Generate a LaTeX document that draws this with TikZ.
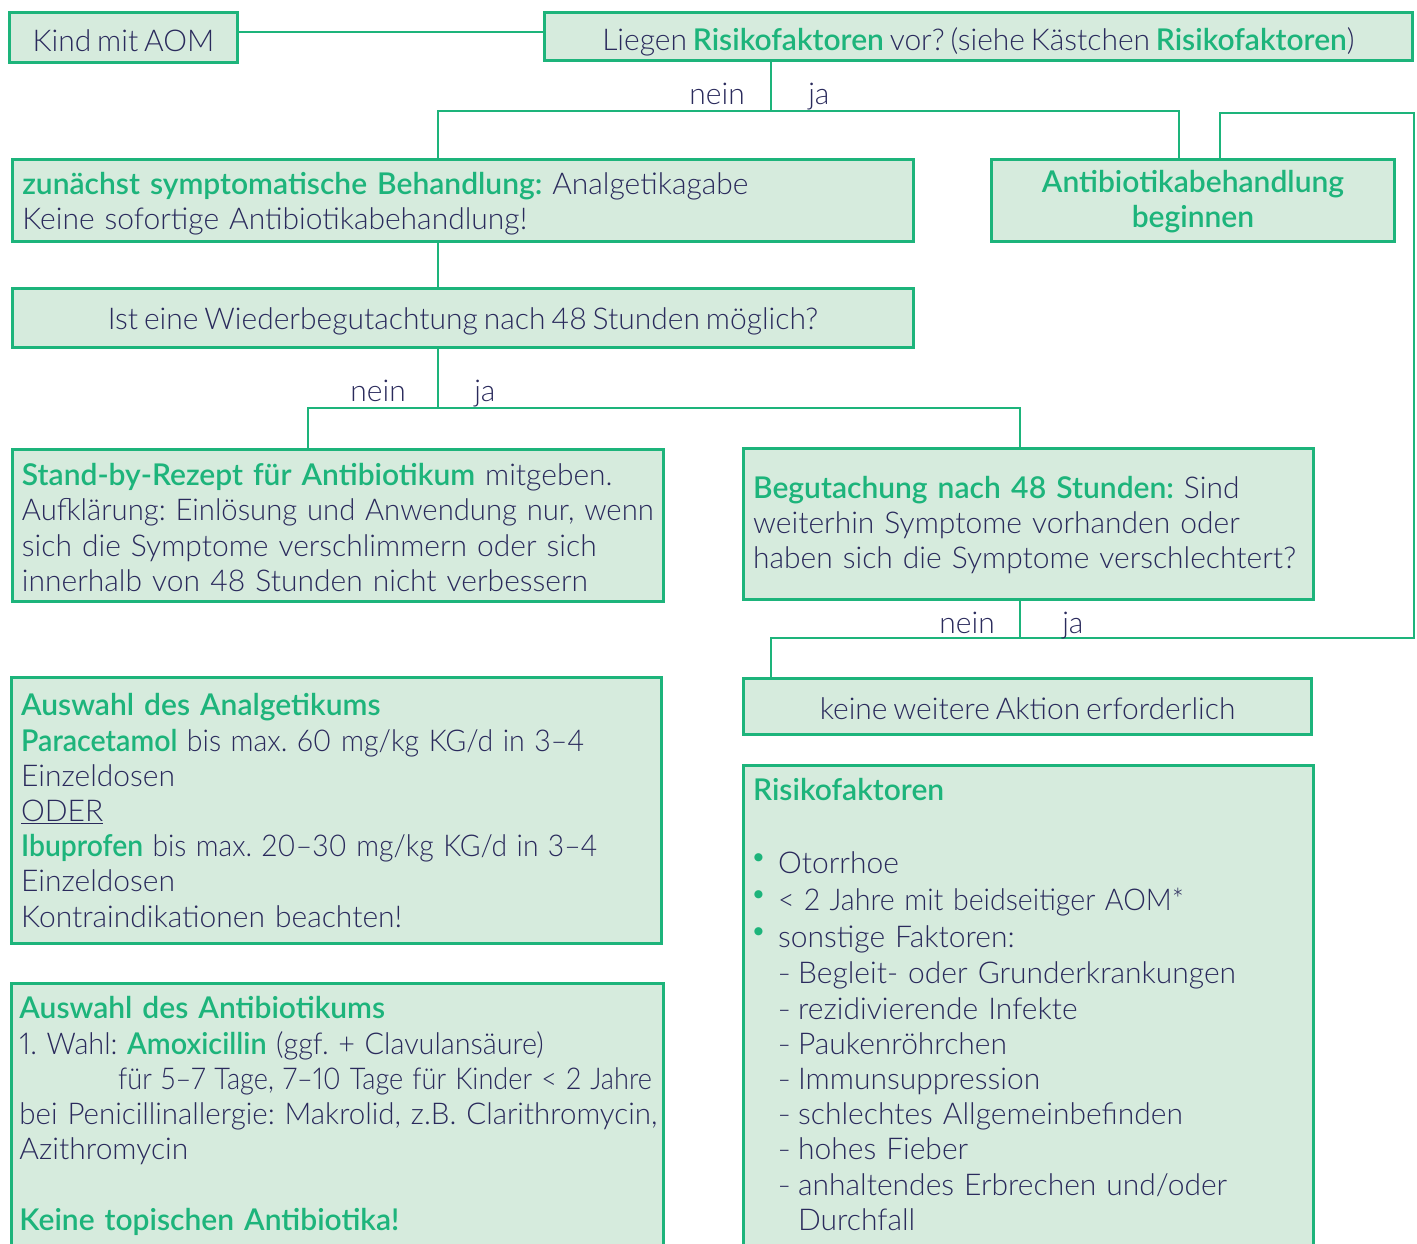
\documentclass[tikz,border=0pt]{standalone}
\usepackage{fontspec}
\setmainfont{Lato}[UprightFont={* Light}, BoldFont={* Semibold}, WordSpace=0.72, Numbers=Proportional]
\newfontfamily\dejavu{DejaVu Sans}
\usetikzlibrary{calc}
\definecolor{navy}{HTML}{2A2A5C}
\definecolor{grn}{HTML}{1DB47B}
\definecolor{boxfill}{HTML}{D6EBDD}
\newcommand{\g}[1]{\textcolor{grn}{\textbf{#1}}}
\newcommand{\sx}[2]{\scalebox{#1}[1]{#2}}
\newcommand{\bul}{\makebox[18.75pt][l]{\hspace{0.5pt}\textcolor{grn}{\raisebox{10pt}{\dejavu\fontsize{8}{8}\selectfont ●}}}}
\newcommand{\dsh}{\hspace*{18.75pt}\makebox[15pt][l]{\sx{0.72}{–}}}
\newcommand{\lns}[2][3pt]{\raisebox{-#1}[\height][\depth]{\begin{tabular}{@{}l@{}}#2\end{tabular}}}
\newcommand{\lnc}[2][3pt]{\raisebox{-#1}[\height][\depth]{\begin{tabular}{@{}c@{}}#2\end{tabular}}}
\frenchspacing
\begin{document}
\begin{tikzpicture}[x=0.75pt,y=-0.75pt,
  box/.style={draw=grn, fill=boxfill, line width=2.2pt, anchor=north west,
    inner xsep=7pt, inner ysep=0pt, text=navy, font=\fontsize{22.5}{26.4}\selectfont\frenchspacing},
  lbox/.style={box, align=left},
  cbox/.style={box, align=center},
  conn/.style={draw=grn, line width=2pt},
  lbl/.style={text=navy, font=\fontsize{22.5}{26.4}\selectfont, inner sep=0pt}]
\useasboundingbox (0,0) rectangle (1417,1243);

% boxes
\node[cbox, minimum width=171pt, minimum height=37.5pt] (kind) at (8,11) {\lnc[5.5pt]{Kind mit AOM}};
\node[cbox, minimum width=651pt, minimum height=36pt] (liegen) at (543,11)
  {\lnc[5pt]{Liegen \g{Risikofaktoren} vor? (siehe Kästchen \g{Risikofaktoren})}};
\node[lbox, minimum width=675.75pt, minimum height=61.5pt, text width=661pt] (zun) at (11,158)
  {\lns[3.5pt]{\g{zunächst symptomatische Behandlung:} Analgetikagabe\\Keine sofortige Antibiotikabehandlung!}};
\node[cbox, minimum width=302.25pt, minimum height=61.5pt] (anti) at (990,158)
  {\lnc[2pt]{\g{Antibiotikabehandlung}\\\g{beginnen}}};
\node[cbox, minimum width=675.75pt, minimum height=44.25pt] (ist) at (11,287)
  {\lnc[3.5pt]{Ist eine Wiederbegutachtung nach 48 Stunden möglich?}};
\node[lbox, minimum width=488.25pt, minimum height=114pt, text width=474pt] (sb) at (11,448)
  {\lns[4.5pt]{\g{Stand-by-Rezept für Antibiotikum} mitgeben.\\\sx{0.975}{Aufklärung: Einlösung und Anwendung nur, wenn}\\sich die Symptome verschlimmern oder sich\\innerhalb von 48 Stunden nicht verbessern}};
\node[lbox, minimum width=427.5pt, minimum height=113.25pt, text width=413pt] (beg) at (742,447)
  {\lns[2pt]{\g{Begutachung nach 48 Stunden:} Sind\\weiterhin Symptome vorhanden oder\\haben sich die Symptome verschlechtert?}};
\node[cbox, minimum width=426pt, minimum height=42pt] (keine) at (742,677)
  {\lnc[4.5pt]{keine weitere Aktion erforderlich}};
\node[lbox, minimum width=487.5pt, minimum height=199.5pt, text width=473pt] (ana) at (10,676)
  {\lns{\g{Auswahl des Analgetikums}\\
   \sx{0.952}{\g{Paracetamol} bis max. 60 mg/kg KG/d in 3–4}\\
   Einzeldosen\\
   \underline{ODER}\\
   \sx{0.943}{\g{Ibuprofen} bis max. 20–30 mg/kg KG/d in 3–4}\\
   Einzeldosen\\
   Kontraindikationen beachten!}};
\node[lbox, minimum width=489pt, minimum height=198pt, text width=477pt, inner xsep=6pt] (abx) at (10,982)
  {\lns[1.5pt]{\g{Auswahl des Antibiotikums}\\
   \sx{0.96}{1. Wahl: \g{Amoxicillin} (ggf. + Clavulansäure)}\\
   \hspace*{74pt}\sx{0.905}{für 5–7 Tage, 7–10 Tage für Kinder < 2 Jahre}\\
   \sx{0.983}{bei Penicillinallergie: Makrolid, z.B. Clarithromycin,}\\
   Azithromycin\\
   \\
   \g{Keine topischen Antibiotika!}}};
\node[lbox, minimum width=427.5pt, minimum height=361.5pt, text width=413pt] (risk) at (742,764)
  {\lns[1.5pt]{\g{Risikofaktoren}\\[28.35pt]
   \bul Otorrhoe\\[1.35pt]
   \bul \sx{0.953}{< 2 Jahre mit beidseitiger AOM*}\\[1.35pt]
   \bul sonstige Faktoren:\\[0.6pt]
   \dsh Begleit- oder Grunderkrankungen\\
   \dsh rezidivierende Infekte\\
   \dsh Paukenröhrchen\\
   \dsh Immunsuppression\\
   \dsh schlechtes Allgemeinbefinden\\
   \dsh hohes Fieber\\
   \dsh anhaltendes Erbrechen und/oder\\
   \hspace*{33.75pt}Durchfall}};

% coordinates
\coordinate (ky) at (0,32);
\coordinate (j1) at (771,111);
\coordinate (b1l) at (438,111);
\coordinate (b1r) at (1179,111);
\coordinate (l1) at (1220,113);
\coordinate (l2) at (1414,113);
\coordinate (l3) at (1414,638);
\coordinate (j2) at (438,408);
\coordinate (b2l) at (308,408);
\coordinate (b2r) at (1020,408);
\coordinate (j3) at (1020,638);
\coordinate (b3l) at (771,638);

% connectors
\draw[conn] (kind.east |- ky) -- (liegen.west |- ky);
\draw[conn] (liegen.south -| j1) -- (j1);
\draw[conn] (b1l |- zun.north) -- (b1l) -- (b1r) -- (b1r |- anti.north);
\draw[conn] (l1 |- anti.north) -- (l1) -- (l2) -- (l3) -- (j3);
\draw[conn] (b1l |- zun.south) -- (b1l |- ist.north);
\draw[conn] (j2 |- ist.south) -- (j2);
\draw[conn] (b2l |- sb.north) -- (b2l) -- (b2r) -- (b2r |- beg.north);
\draw[conn] (j3 |- beg.south) -- (j3);
\draw[conn] (j3) -- (b3l) -- (b3l |- keine.north);

% labels
\node[lbl, anchor=base east] (n1) at ($(j1)+(-26,-7)$) {nein};
\node[lbl, anchor=base west] (y1) at ($(j1)+(37,-7)$) {ja};
\node[lbl, anchor=base east] (n2) at ($(j2)+(-32,-7)$) {nein};
\node[lbl, anchor=base west] (y2) at ($(j2)+(36,-7)$) {ja};
\node[lbl, anchor=base east] (n3) at ($(j3)+(-25,-5)$) {nein};
\node[lbl, anchor=base west] (y3) at ($(j3)+(42,-5)$) {ja};
\end{tikzpicture}
\end{document}
